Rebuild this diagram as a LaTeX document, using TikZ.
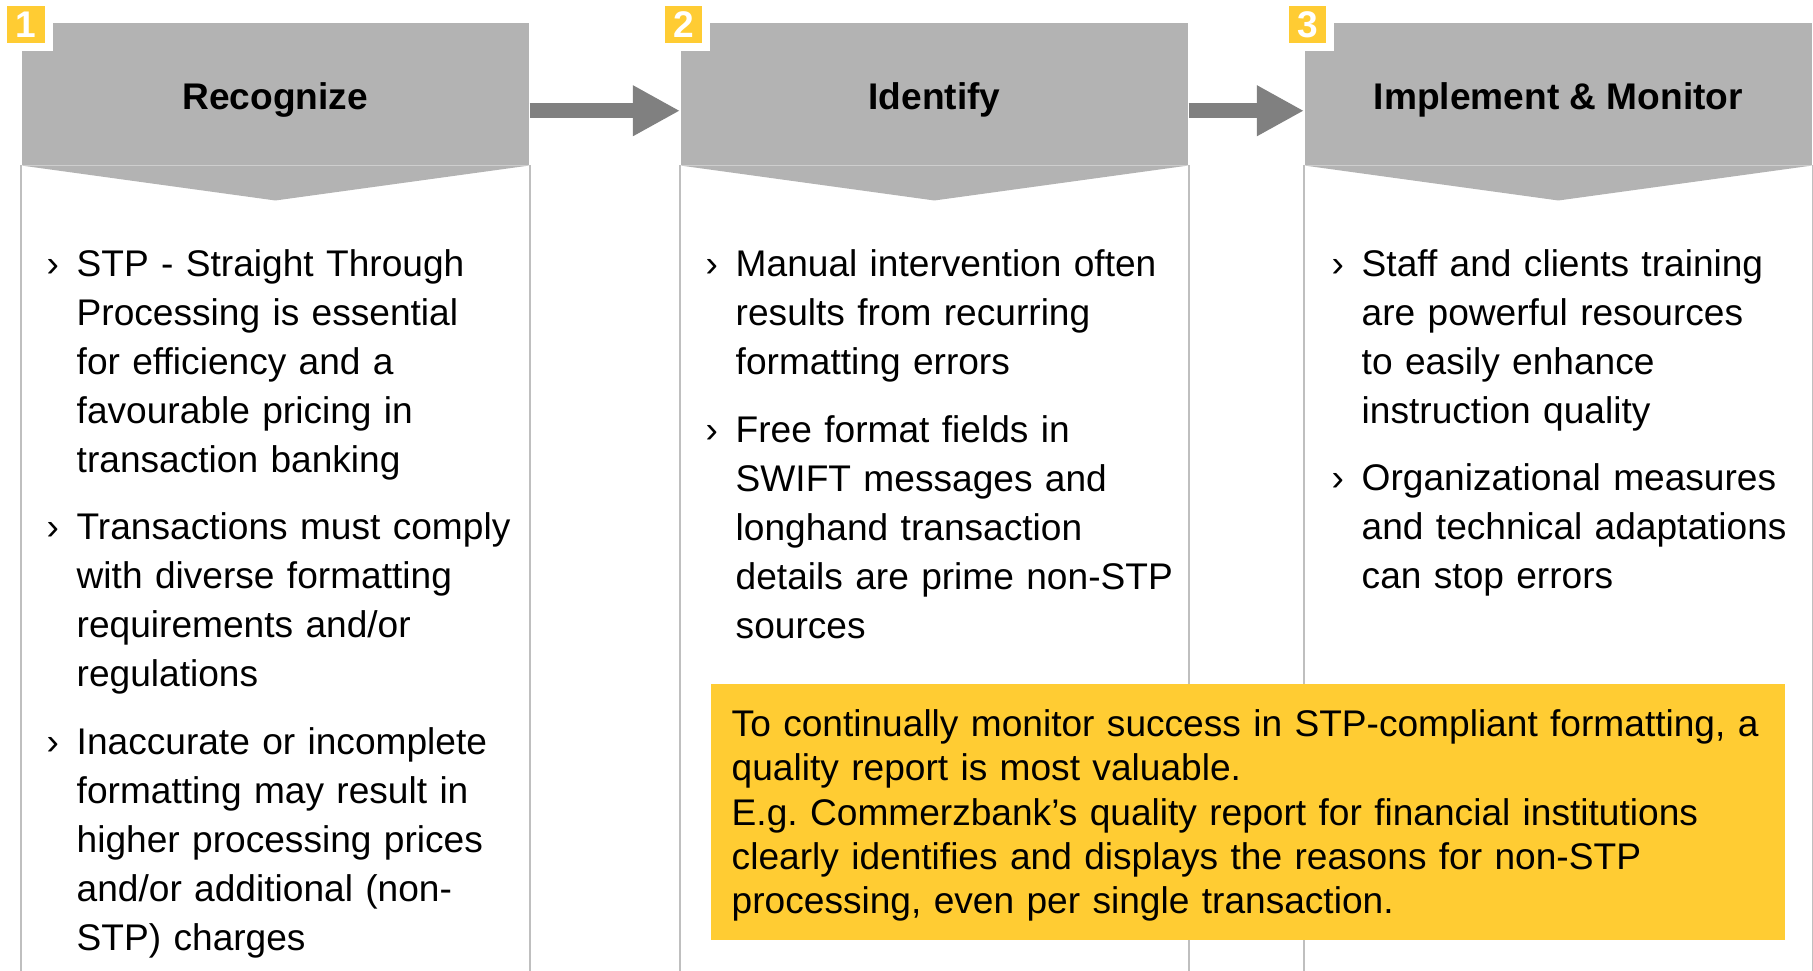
\documentclass[tikz,border=0pt]{standalone}
\usepackage{fontspec}
\setmainfont{Liberation Sans}
\usetikzlibrary{arrows.meta}
\frenchspacing

\definecolor{headgray}{HTML}{B3B3B3}
\definecolor{arrowgray}{HTML}{808080}
\definecolor{linegray}{HTML}{BFBFBF}
\definecolor{stepyellow}{HTML}{FFCC33}

\newcommand{\bodyfont}{\fontsize{10.55pt}{13.9pt}\selectfont}
\newcommand{\notefont}{\fontsize{10.55pt}{12.6pt}\selectfont}

\tikzset{
  header/.style={fill=headgray, anchor=north west, inner sep=0pt,
    minimum width=5.07cm, minimum height=1.42cm, text height=0.39cm,
    text depth=0.08cm, font=\bodyfont\bfseries},
  badge/.style={fill=stepyellow, draw=white, line width=0.08cm, inner sep=0pt,
    minimum width=0.45cm, minimum height=0.445cm, text=white,
    font=\bodyfont\bfseries},
  colline/.style={draw=linegray, line width=0.02cm},
  flow/.style={draw=arrowgray, line width=0.153cm,
    -{Triangle[length=0.47cm, width=0.473cm]}},
  bullet/.style={anchor=base west, inner sep=0pt, font=\bodyfont},
  itemtext/.style={anchor=base west, inner sep=0pt, text width=4.6cm,
    align=left, font=\bodyfont},
  notebox/.style={fill=stepyellow, anchor=north west, inner sep=0pt,
    minimum width=10.74cm, minimum height=2.56cm},
  notetext/.style={anchor=base west, inner sep=0pt, text width=10.4cm,
    align=left, font=\notefont}
}

\begin{document}
\begin{tikzpicture}[x=0.01cm, y=-0.01cm]
  \useasboundingbox (0,0) rectangle (1813,971);

  % Kopfzeilen
  \node[header] (h1) at (21,22) {Recognize};
  \node[header] (h2) at (680,22) {Identify};
  \node[header] (h3) at (1304,22) {Implement \& Monitor};

  \foreach \h in {h1,h2,h3} {
    \fill[headgray] (\h.south west) -- ([yshift=-0.35cm]\h.south) -- (\h.south east) -- cycle;
    \draw[colline] (\h.south west) -- ++(0,810);
    \draw[colline] (\h.south east) -- ++(0,810);
  }

  % Nummern
  \node[badge] (b1) at ([xshift=0.05cm,yshift=-0.025cm]h1.north west) {1};
  \node[badge] (b2) at ([xshift=0.035cm,yshift=-0.025cm]h2.north west) {2};
  \node[badge] (b3) at ([xshift=0.035cm,yshift=-0.025cm]h3.north west) {3};

  % Pfeile
  \draw[flow] ([yshift=-0.17cm]h1.east) -- ([yshift=-0.17cm]h2.west);
  \draw[flow] ([yshift=-0.17cm]h2.east) -- ([yshift=-0.17cm]h3.west);

  % Spalte 1
  \node[itemtext] (r1) at (76,277) {STP - Straight Through\\Processing is essential\\for efficiency and a\\favourable pricing in\\transaction banking};
  \node[itemtext] (r2) at (76,540) {Transactions must comply\\with diverse formatting\\requirements and/or\\regulations};
  \node[itemtext] (r3) at (76,755) {Inaccurate or incomplete\\formatting may result in\\higher processing prices\\and/or additional (non-\\STP) charges};

  % Spalte 2
  \node[itemtext] (i1) at (735,277) {Manual intervention often\\results from recurring\\formatting errors};
  \node[itemtext] (i2) at (735,443) {Free format fields in\\SWIFT messages and\\longhand transaction\\details are prime non-STP\\sources};

  % Spalte 3
  \node[itemtext] (m1) at (1361,277) {Staff and clients training\\are powerful resources\\to easily enhance\\instruction quality};
  \node[itemtext] (m2) at (1361,491) {Organizational measures\\and technical adaptations\\can stop errors};

  \foreach \t in {r1,r2,r3,i1,i2,m1,m2}
    \node[bullet] (\t b) at ([xshift=-0.3cm]\t.base west) {›};

  % Hinweis
  \node[notebox] (note) at (710,683) {};
  \node[notetext] (notetxt) at ([xshift=0.21cm,yshift=-0.535cm]note.north west) {To continually monitor success in STP-compliant formatting, a\\quality report is most valuable.\\E.g. Commerzbank’s quality report for financial institutions\\clearly identifies and displays the reasons for non-STP\\processing, even per single transaction.};
\end{tikzpicture}
\end{document}
